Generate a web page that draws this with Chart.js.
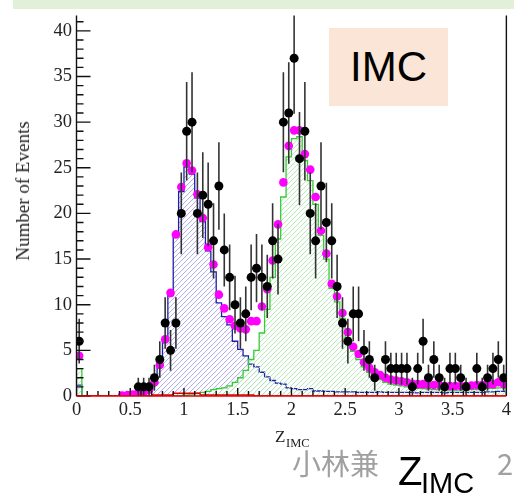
<!DOCTYPE html>
<html><head><meta charset="utf-8">
<script src="https://cdn.jsdelivr.net/npm/chart.js@4.4.1/dist/chart.umd.min.js"></script>
<style>
html,body{margin:0;padding:0;background:#fff;overflow:hidden;}
#wrap{position:relative;width:514px;height:504px;overflow:hidden;}
#c{position:absolute;left:0;top:0;}
.banner{position:absolute;left:13px;top:0;width:501px;height:9px;background:#e2f0d9;}
.imc{position:absolute;left:329px;top:28px;width:119px;height:78px;background:#fbe5d6;font-family:'Liberation Sans',sans-serif;font-size:42px;line-height:78px;text-align:center;color:#000;}
.ytitle{position:absolute;left:23px;top:191px;transform:translate(-50%,-50%) rotate(-90deg);font-family:'Liberation Serif',serif;font-size:19px;color:#222;white-space:nowrap;line-height:20px;}
.xt{position:absolute;font-family:'Liberation Serif',serif;color:#222;white-space:nowrap;}
.gray{position:absolute;font-family:'Noto Sans CJK JP',sans-serif;font-size:29px;line-height:36px;color:#a0a0a0;white-space:nowrap;}
.zbox{position:absolute;left:390px;top:440px;width:107px;height:64px;background:#fff;}
.zs{position:absolute;font-family:'Liberation Sans',sans-serif;color:#000;white-space:nowrap;}
</style>
</head><body>
<div id="wrap">
<canvas id="c" width="514" height="504"></canvas>
<div class="banner"></div>
<div class="imc">IMC</div>
<div class="ytitle">Number of Events</div>
<div class="xt" style="left:275px;top:428px;font-size:17px;line-height:18px;">Z</div>
<div class="xt" style="left:286px;top:436px;font-size:12.5px;line-height:14px;">IMC</div>
<div class="gray" style="left:292px;top:444px;">小林兼</div>
<div class="gray" style="right:1px;top:444px;">2022</div>
<div class="zbox"></div>
<div class="zs" style="left:398px;top:451px;font-size:40px;line-height:40px;">Z</div>
<div class="zs" style="left:421px;top:468px;font-size:29px;line-height:30px;">IMC</div>
</div>
<script>
// ---- binning / axes ----
const xMin = 0, xMax = 4, binWidth = 0.05;
const yMin = 0, yMax = 41.67;
const xTicks = [0, 0.5, 1, 1.5, 2, 2.5, 3, 3.5, 4];
const yTicks = [0, 5, 10, 15, 20, 25, 30, 35, 40];
const xMinorStep = 0.1, yMinorStep = 1, yMinorMax = 41;

// ---- data (events per bin of 0.05) ----
const dataCounts = [
  6,0,0,0,0,0,0,0,0,0,
  0,1,1,1,2,4,8,5,8,20,
  29,30,20,22,21,17,23,16,13,10,
  8,9,13,14,13,12,17,15,30,31,
  37,26,29,20,17,23,19,17,12,8,
  6,9,9,5,4,2,0,4,3,3,
  3,3,1,3,6,2,4,2,1,3,
  3,2,1,0,3,1,2,3,4,2
];
// total MC (magenta points)
const mcTotal = [
  4.4,null,null,null,null,null,null,null,0.05,0.1,
  0.15,0.3,0.45,0.7,1.5,3.4,6.2,11.3,17.7,22.9,
  25.5,24.7,22.1,19.5,16.3,14.4,11.1,9.6,8.4,7.7,
  7.4,7.3,8.2,8.2,9.8,11.7,14.85,18.8,23.4,27.4,
  29.1,29.1,26.5,24.8,21.8,18.1,15.6,12.3,10.9,9.1,
  7.0,5.4,4.6,3.7,3.1,2.6,2.3,2.0,1.8,1.7,
  1.6,1.5,1.35,1.3,1.3,1.2,1.2,1.2,1.1,1.1,
  1.1,1.1,1.1,1.15,1.2,1.2,1.3,1.3,1.5,1.3
];
// blue hatched component
const blueHist = [
  1.2,0,0,0,0,0,0,0,0.05,0.1,
  0.15,0.3,0.45,0.6,1.3,3.2,6.0,11.0,17.5,22.4,
  25.1,24.3,21.7,19.1,15.9,13.6,10.2,8.7,7.8,6.0,
  5.1,4.4,3.5,3.2,2.6,2.1,1.7,1.4,1.3,0.9,
  0.8,0.7,0.7,0.8,0.55,0.55,0.5,0.5,0.45,0.45,
  0.45,0.45,0.4,0.4,0.4,0.4,0.45,0.4,0.4,0.4,
  0.4,0.4,0.4,0.35,0.4,0.4,0.4,0.4,0.35,0.4,
  0.4,0.4,0.4,0.4,0.4,0.4,0.45,0.45,0.5,0.5
];
// green hatched component
const greenHist = [
  3.0,0,0,0,0,0,0,0,0,0,
  0,0,0,0,0,0,0,0,0,0.05,
  0.1,0.2,0.3,0.4,0.5,0.7,0.8,0.9,1.1,1.5,
  2.0,2.8,4.0,5.0,6.9,9.5,13.0,17.2,21.8,26.2,
  28.2,28.4,25.8,23.6,21.0,17.6,15.0,11.8,10.3,8.5,
  6.4,4.9,4.0,3.2,2.6,2.1,1.8,1.5,1.3,1.2,
  1.1,1.0,0.9,0.85,0.8,0.75,0.7,0.7,0.65,0.65,
  0.65,0.65,0.65,0.7,0.7,0.75,0.8,0.85,0.9,0.9
];
// red component
const redHist = [
  0,0,0,0,0,0,0,0,0,0,
  0,0,0,0,0.1,0.1,0.1,0.1,0.3,0.3,
  0.3,0.3,0.3,0.1,0.1,0.1,0.1,0.1,0.1,0.1,
  0.1,0.1,0.1,0,0,0,0,0,0,0,
  0,0,0,0,0,0,0,0,0,0,
  0,0,0,0,0,0,0,0,0,0,
  0,0,0,0,0,0,0,0,0,0,
  0,0,0,0,0,0,0,0,0,0
];

function binLow(i){ return xMin + i*binWidth; }
function binCenter(i){ return xMin + (i+0.5)*binWidth; }
function histPts(vals){
  const pts = [{x: binLow(0), y: 0}];
  vals.forEach((v,i)=>pts.push({x: binLow(i), y: v}));
  pts.push({x: binLow(vals.length), y: vals[vals.length-1]});
  pts.push({x: binLow(vals.length), y: 0});
  return pts;
}
const dataPts = [];
dataCounts.forEach((n,i)=>{ if(n>0) dataPts.push({x: binCenter(i), y: n}); });
const mcPts = [];
mcTotal.forEach((v,i)=>{ if(v!==null) mcPts.push({x: binCenter(i), y: v}); });

// hatch fill under a histogram, drawn through the chart scales
const hatchStyles = {3: {vals: greenHist, color: '#b3e8b3'}, 4: {vals: blueHist, color: '#a9a9e4'}};
const hatchFill = {
  id: 'hatchFill',
  beforeDatasetDraw(chart, args){
    const h = hatchStyles[args.index];
    if (!h) return;
    const {ctx, chartArea: a, scales: {x, y}} = chart;
    ctx.save();
    ctx.beginPath();
    ctx.moveTo(x.getPixelForValue(binLow(0)), y.getPixelForValue(0));
    h.vals.forEach((v,i)=>{
      ctx.lineTo(x.getPixelForValue(binLow(i)), y.getPixelForValue(v));
      ctx.lineTo(x.getPixelForValue(binLow(i+1)), y.getPixelForValue(v));
    });
    ctx.lineTo(x.getPixelForValue(binLow(h.vals.length)), y.getPixelForValue(0));
    ctx.closePath();
    ctx.clip();
    ctx.strokeStyle = h.color; ctx.lineWidth = 1;
    ctx.beginPath();
    const H = a.bottom - a.top, step = 5;
    for (let k = -H; k < (a.right - a.left) + step; k += step){
      ctx.moveTo(a.left + k, a.bottom);
      ctx.lineTo(a.left + k + H, a.top);
    }
    ctx.stroke();
    ctx.restore();
  }
};

const errorBars = {
  id: 'errorBars',
  beforeDatasetDraw(chart, args){
    if (args.index !== 0) return;
    const {ctx, chartArea: a, scales: {x, y}} = chart;
    ctx.save();
    ctx.beginPath(); ctx.rect(a.left, a.top, a.right-a.left, a.bottom-a.top); ctx.clip();
    ctx.strokeStyle = '#333'; ctx.lineWidth = 1.6;
    ctx.beginPath();
    dataCounts.forEach((n,i)=>{
      if (n <= 0) return;
      const e = Math.sqrt(n);
      const px = x.getPixelForValue(binCenter(i));
      ctx.moveTo(px, y.getPixelForValue(n - e));
      ctx.lineTo(px, y.getPixelForValue(n + e));
      const py = y.getPixelForValue(n);
      ctx.moveTo(x.getPixelForValue(binLow(i)), py);
      ctx.lineTo(x.getPixelForValue(binLow(i+1)), py);
    });
    ctx.stroke();
    ctx.restore();
  }
};

const axisDeco = {
  id: 'axisDeco',
  afterDatasetsDraw(chart){
    const {ctx, chartArea: a, scales: {x, y}} = chart;
    ctx.save();
    ctx.strokeStyle = '#111'; ctx.lineWidth = 1.4;
    ctx.beginPath();
    ctx.moveTo(a.left, a.top); ctx.lineTo(a.left, a.bottom);
    ctx.moveTo(a.right, a.top); ctx.lineTo(a.right, a.bottom);
    for (let k = 0; k*yMinorStep <= yMinorMax + 1e-9; k++){
      const v = k*yMinorStep;
      const py = y.getPixelForValue(v);
      const major = yTicks.some(t => Math.abs(t - v) < 1e-9);
      ctx.moveTo(a.left, py); ctx.lineTo(a.left + (major ? 14 : 7), py);
    }
    for (let k = 0; xMin + k*xMinorStep <= xMax + 1e-9; k++){
      const v = xMin + k*xMinorStep;
      const px = x.getPixelForValue(v);
      const major = xTicks.some(t => Math.abs(t - v) < 1e-9);
      ctx.moveTo(px, a.bottom); ctx.lineTo(px, a.bottom - (major ? 8 : 5));
    }
    ctx.stroke();
    // red zero line on top of the baseline
    ctx.strokeStyle = '#e00000'; ctx.lineWidth = 1.5;
    ctx.beginPath();
    ctx.moveTo(a.left, y.getPixelForValue(0)); ctx.lineTo(a.right, y.getPixelForValue(0));
    ctx.stroke();
    ctx.restore();
  }
};

const tickFont = {family: "'Liberation Serif', serif", size: 18.5};
const fmt = v => String(v);

new Chart(document.getElementById('c'), {
  type: 'line',
  data: { datasets: [
    {type:'scatter', label:'Data', data: dataPts, pointRadius: 4.5, pointHoverRadius: 4.5,
     pointBackgroundColor:'#000', pointBorderWidth: 0, showLine: false},
    {type:'scatter', label:'MC total', data: mcPts, pointRadius: 4.3, pointHoverRadius: 4.3,
     pointBackgroundColor:'#ff00ff', pointBorderWidth: 0, showLine: false},
    {label:'red', data: histPts(redHist), borderColor:'#e00000', borderWidth: 1.5,
     pointRadius: 0, stepped: true, fill: false},
    {label:'green', data: histPts(greenHist), borderColor:'#33cc33', borderWidth: 1.3,
     pointRadius: 0, stepped: true, fill: false},
    {label:'blue', data: histPts(blueHist), borderColor:'#1e1eaa', borderWidth: 1.3,
     pointRadius: 0, stepped: true, fill: false}
  ]},
  options: {
    responsive: false, animation: false,
    layout: {padding: {top: 9.5, right: 4.5, left: 0, bottom: 0}},
    plugins: {legend: {display: false}, tooltip: {enabled: false}},
    scales: {
      x: {type: 'linear', min: xMin, max: xMax,
          grid: {display: false, drawTicks: false}, border: {display: false},
          ticks: {font: tickFont, color: '#222', padding: 3, maxRotation: 0, autoSkip: false, callback: fmt},
          afterBuildTicks: s => { s.ticks = xTicks.map(v => ({value: v})); },
          afterFit: s => { s.height = 108; }},
      y: {type: 'linear', min: yMin, max: yMax,
          grid: {display: false, drawTicks: false}, border: {display: false},
          ticks: {font: tickFont, color: '#222', padding: 4.5, autoSkip: false, callback: fmt},
          afterBuildTicks: s => { s.ticks = yTicks.map(v => ({value: v})); },
          afterFit: s => { s.width = 76.5; }}
    }
  },
  plugins: [hatchFill, errorBars, axisDeco]
});
</script>
</body></html>
